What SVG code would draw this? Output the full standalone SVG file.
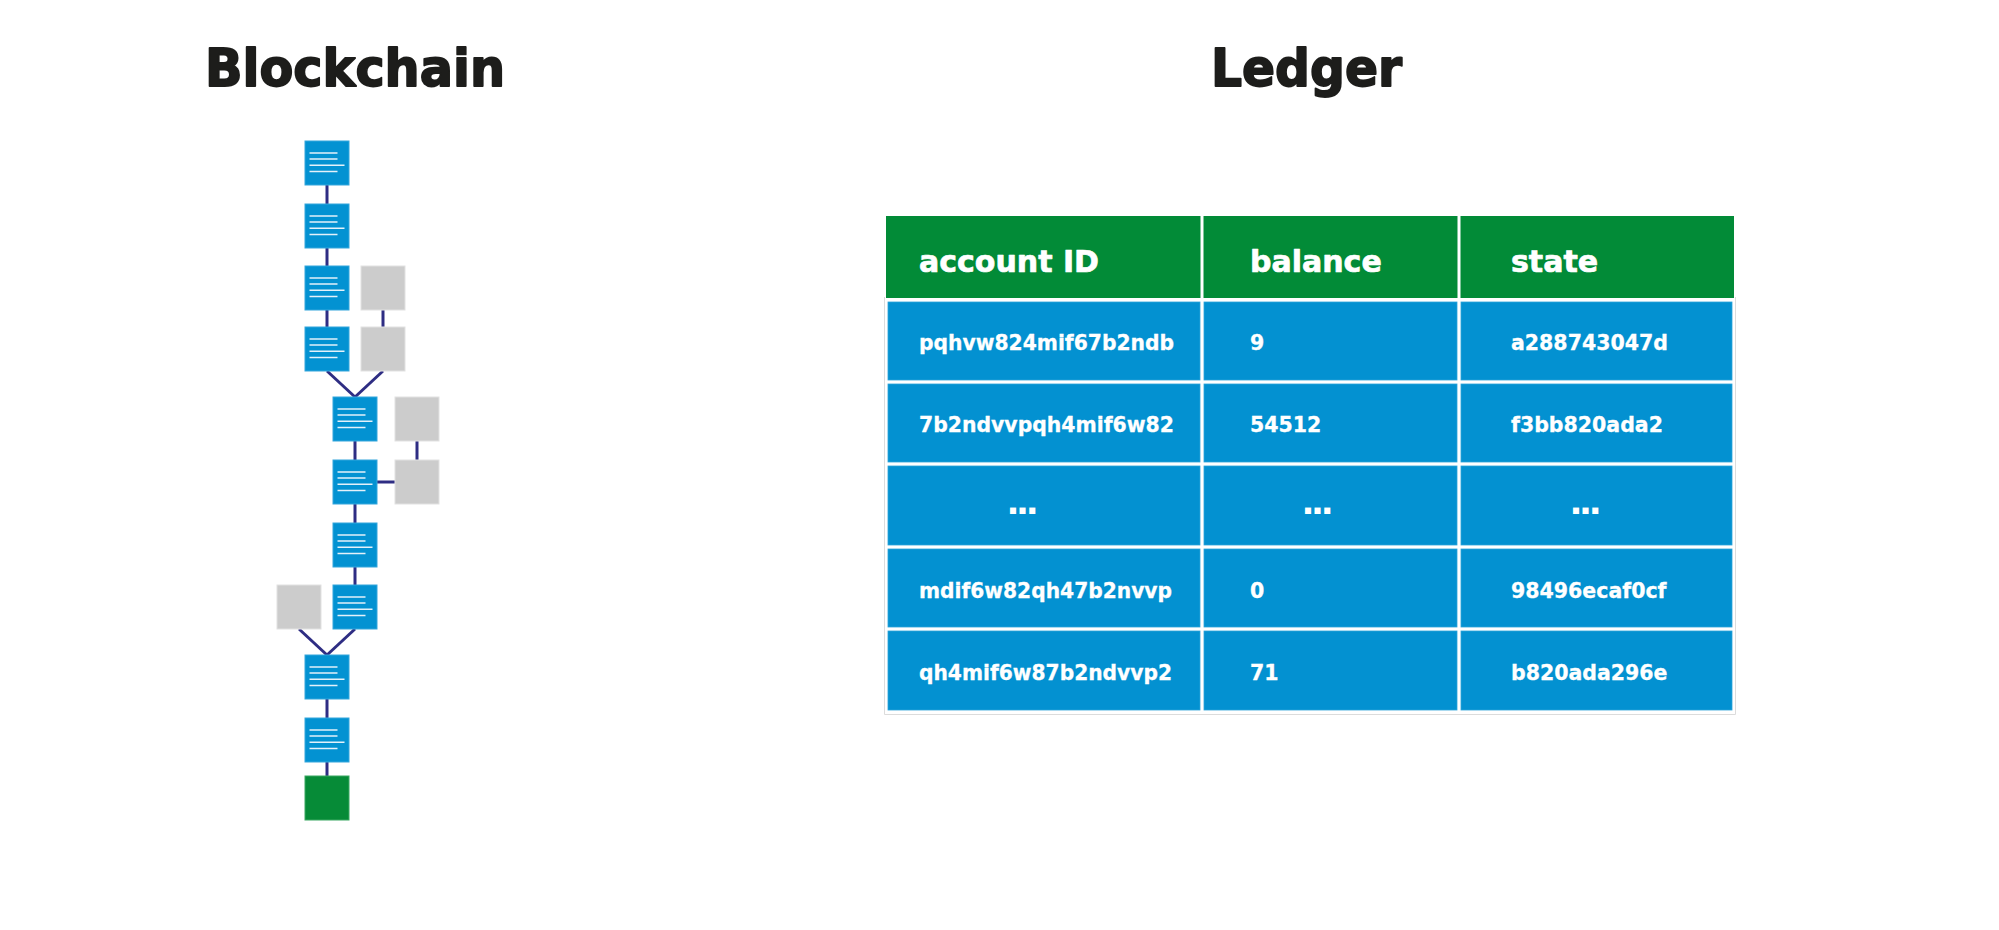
<svg xmlns="http://www.w3.org/2000/svg" xmlns:xlink="http://www.w3.org/1999/xlink" width="1999" height="930" viewBox="0 0 1999 930">
<style>
.title{font-family:"DejaVu Sans","Liberation Sans",sans-serif;font-weight:bold;font-size:52px;fill:#1d1d1b;stroke:#1d1d1b;stroke-width:1.8;stroke-linejoin:round}
.blue{fill:#0392d2;stroke:#35a6dc;stroke-width:1}
.gray{fill:#cccccc;stroke:#e2e2e2;stroke-width:1}
.green{fill:#068b37;stroke:#3aa862;stroke-width:1}
.doc{stroke:#e4f1fa;stroke-width:1.5;fill:none}
.conn{stroke:#2e2d83;stroke-width:3;fill:none}
.hdr{fill:#028b37}
.cell{fill:#0391d1;stroke:#2ba3da;stroke-width:0.8}
.th{font-family:"DejaVu Sans","Liberation Sans",sans-serif;font-weight:bold;font-size:30px;fill:#ffffff;stroke:#ffffff;stroke-width:0.7;stroke-linejoin:round}
.td{font-family:"DejaVu Sans","Liberation Sans",sans-serif;font-weight:bold;font-size:20.5px;fill:#ffffff;stroke:#ffffff;stroke-width:0.3}
.dots{font-family:"DejaVu Sans","Liberation Sans",sans-serif;font-weight:bold;font-size:34px;fill:#ffffff;letter-spacing:-3.3px}
.sep{fill:#ffffff}
</style>
<defs>
<g id="doclines">
<line class="doc" x1="4.5" y1="12" x2="32.5" y2="12"/>
<line class="doc" x1="4.5" y1="18" x2="32.5" y2="18"/>
<line class="doc" x1="4.5" y1="24.3" x2="39.5" y2="24.3"/>
<line class="doc" x1="4.5" y1="30.5" x2="32.5" y2="30.5"/>
</g>
</defs>
<rect width="1999" height="930" fill="#ffffff"/>

<text class="title" x="205" y="86" textLength="300" lengthAdjust="spacingAndGlyphs">Blockchain</text>
<text class="title" x="1211" y="86" textLength="191" lengthAdjust="spacingAndGlyphs">Ledger</text>

<g id="connectors">
<line class="conn" x1="327" y1="185" x2="327" y2="204"/>
<line class="conn" x1="327" y1="248" x2="327" y2="266"/>
<line class="conn" x1="327" y1="310" x2="327" y2="327"/>
<line class="conn" x1="383" y1="310" x2="383" y2="327"/>
<line class="conn" x1="327" y1="371" x2="355" y2="397"/>
<line class="conn" x1="383" y1="371" x2="355" y2="397"/>
<line class="conn" x1="355" y1="441" x2="355" y2="460"/>
<line class="conn" x1="417" y1="441" x2="417" y2="460"/>
<line class="conn" x1="377" y1="482" x2="395" y2="482"/>
<line class="conn" x1="355" y1="504" x2="355" y2="523"/>
<line class="conn" x1="355" y1="567" x2="355" y2="585"/>
<line class="conn" x1="355" y1="629" x2="327" y2="655"/>
<line class="conn" x1="299" y1="629" x2="327" y2="655"/>
<line class="conn" x1="327" y1="699" x2="327" y2="718"/>
<line class="conn" x1="327" y1="762" x2="327" y2="776"/>
</g>

<g id="block1"><rect class="blue" x="305" y="141" width="44" height="44"/><use xlink:href="#doclines" x="305" y="141"/></g>
<g id="block2"><rect class="blue" x="305" y="204" width="44" height="44"/><use xlink:href="#doclines" x="305" y="204"/></g>
<g id="block3"><rect class="blue" x="305" y="266" width="44" height="44"/><use xlink:href="#doclines" x="305" y="266"/></g>
<g id="block4"><rect class="blue" x="305" y="327" width="44" height="44"/><use xlink:href="#doclines" x="305" y="327"/></g>
<g id="orphan1"><rect class="gray" x="361" y="266" width="44" height="44"/></g>
<g id="orphan2"><rect class="gray" x="361" y="327" width="44" height="44"/></g>
<g id="block5"><rect class="blue" x="333" y="397" width="44" height="44"/><use xlink:href="#doclines" x="333" y="397"/></g>
<g id="block6"><rect class="blue" x="333" y="460" width="44" height="44"/><use xlink:href="#doclines" x="333" y="460"/></g>
<g id="block7"><rect class="blue" x="333" y="523" width="44" height="44"/><use xlink:href="#doclines" x="333" y="523"/></g>
<g id="block8"><rect class="blue" x="333" y="585" width="44" height="44"/><use xlink:href="#doclines" x="333" y="585"/></g>
<g id="orphan3"><rect class="gray" x="395" y="397" width="44" height="44"/></g>
<g id="orphan4"><rect class="gray" x="395" y="460" width="44" height="44"/></g>
<g id="orphan5"><rect class="gray" x="277" y="585" width="44" height="44"/></g>
<g id="block9"><rect class="blue" x="305" y="655" width="44" height="44"/><use xlink:href="#doclines" x="305" y="655"/></g>
<g id="block10"><rect class="blue" x="305" y="718" width="44" height="44"/><use xlink:href="#doclines" x="305" y="718"/></g>
<g id="block11"><rect class="green" x="305" y="776" width="44" height="44"/></g>

<g id="ledger">
<path d="M884.5 297 V714.5 H1735.5 V297" fill="none" stroke="#dcdcdc" stroke-width="1"/>
<g id="header">
<rect class="hdr" x="886" y="216" width="848" height="82"/>
<rect class="sep" x="1200.5" y="216" width="3" height="82"/>
<rect class="sep" x="1457.5" y="216" width="3" height="82"/>
<text class="th" x="919" y="272">account ID</text>
<text class="th" x="1250" y="272">balance</text>
<text class="th" x="1511" y="272">state</text>
</g>
<g id="row1">
<rect class="cell" x="888" y="302" width="312" height="78"/>
<rect class="cell" x="1204" y="302" width="253" height="78"/>
<rect class="cell" x="1461" y="302" width="271" height="78"/>
<text class="td" x="919" y="350" textLength="255" lengthAdjust="spacingAndGlyphs">pqhvw824mif67b2ndb</text>
<text class="td" x="1250" y="350">9</text>
<text class="td" x="1511" y="350">a288743047d</text>
</g>
<g id="row2">
<rect class="cell" x="888" y="384" width="312" height="78"/>
<rect class="cell" x="1204" y="384" width="253" height="78"/>
<rect class="cell" x="1461" y="384" width="271" height="78"/>
<text class="td" x="919" y="432" textLength="255" lengthAdjust="spacingAndGlyphs">7b2ndvvpqh4mif6w82</text>
<text class="td" x="1250" y="432">54512</text>
<text class="td" x="1511" y="432">f3bb820ada2</text>
</g>
<g id="row3">
<rect class="cell" x="888" y="466" width="312" height="79"/>
<rect class="cell" x="1204" y="466" width="253" height="79"/>
<rect class="cell" x="1461" y="466" width="271" height="79"/>
<text class="dots" x="1006.5" y="514">...</text>
<text class="dots" x="1301.5" y="514">...</text>
<text class="dots" x="1569.5" y="514">...</text>
</g>
<g id="row4">
<rect class="cell" x="888" y="549" width="312" height="78"/>
<rect class="cell" x="1204" y="549" width="253" height="78"/>
<rect class="cell" x="1461" y="549" width="271" height="78"/>
<text class="td" x="919" y="598" textLength="253" lengthAdjust="spacingAndGlyphs">mdif6w82qh47b2nvvp</text>
<text class="td" x="1250" y="598">0</text>
<text class="td" x="1511" y="598">98496ecaf0cf</text>
</g>
<g id="row5">
<rect class="cell" x="888" y="631" width="312" height="79"/>
<rect class="cell" x="1204" y="631" width="253" height="79"/>
<rect class="cell" x="1461" y="631" width="271" height="79"/>
<text class="td" x="919" y="680" textLength="253" lengthAdjust="spacingAndGlyphs">qh4mif6w87b2ndvvp2</text>
<text class="td" x="1250" y="680">71</text>
<text class="td" x="1511" y="680">b820ada296e</text>
</g>
</g>
</svg>
